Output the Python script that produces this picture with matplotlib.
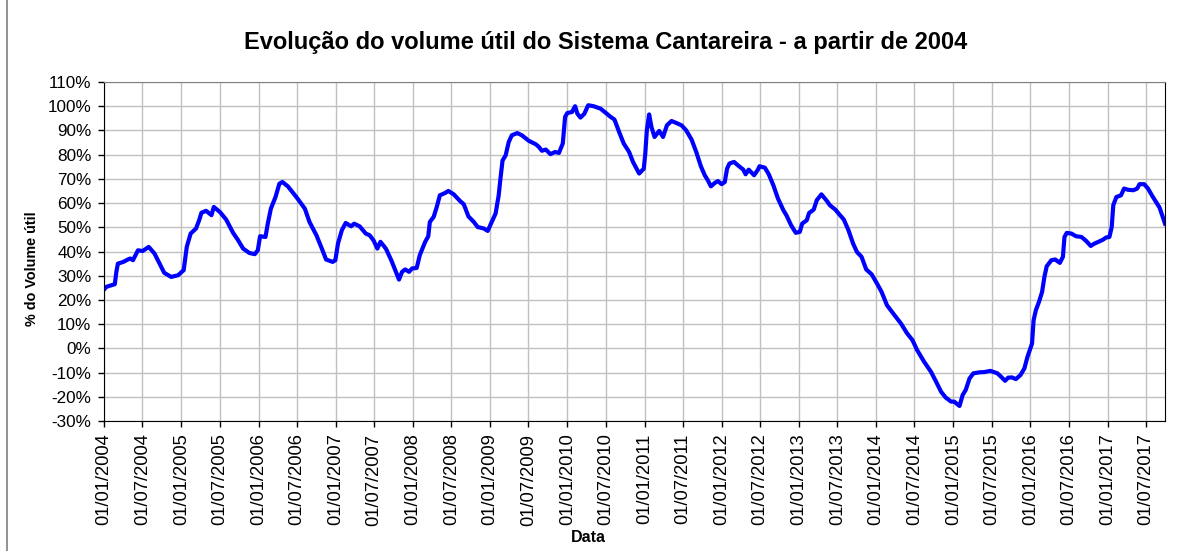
import numpy as np
import pandas as pd
import matplotlib
matplotlib.use("Agg")
import matplotlib.pyplot as plt
import matplotlib.dates as mdates
from matplotlib.ticker import MultipleLocator, FuncFormatter
from matplotlib.lines import Line2D
from datetime import datetime, timedelta

plt.rcParams['font.family'] = ['Liberation Sans', 'DejaVu Sans']

# datas, em anos decimais
anos = [2004.00, 2004.03, 2004.14, 2004.16, 2004.18, 2004.25, 2004.31, 2004.34, 2004.375, 2004.44,
        2004.50, 2004.58, 2004.655, 2004.72, 2004.78, 2004.87, 2004.96, 2005.03, 2005.07, 2005.12,
        2005.19, 2005.23, 2005.26, 2005.32, 2005.39, 2005.42, 2005.50, 2005.58, 2005.67, 2005.73,
        2005.80, 2005.88, 2005.95, 2005.99, 2006.02, 2006.09, 2006.12, 2006.16, 2006.22, 2006.27,
        2006.31, 2006.38, 2006.49, 2006.60, 2006.66, 2006.75, 2006.82, 2006.875, 2006.96, 2006.995,
        2007.03, 2007.08, 2007.13, 2007.20, 2007.24, 2007.31, 2007.39, 2007.44, 2007.49, 2007.54,
        2007.58, 2007.65, 2007.72, 2007.78, 2007.82, 2007.86, 2007.90, 2007.95, 2007.99, 2008.05,
        2008.09, 2008.16, 2008.20, 2008.22, 2008.27, 2008.31, 2008.35, 2008.42, 2008.46, 2008.53,
        2008.61, 2008.66, 2008.72, 2008.79, 2008.84, 2008.92, 2008.97, 2009.00, 2009.07, 2009.11,
        2009.13, 2009.16, 2009.20, 2009.24, 2009.28, 2009.35, 2009.41, 2009.50, 2009.59, 2009.63,
        2009.67, 2009.72, 2009.78, 2009.84, 2009.89, 2009.94, 2009.97, 2010.00, 2010.06, 2010.10,
        2010.13, 2010.17, 2010.22, 2010.27, 2010.34, 2010.43, 2010.50, 2010.56, 2010.61, 2010.67,
        2010.73, 2010.80, 2010.85, 2010.93, 2010.99, 2011.01, 2011.03, 2011.06, 2011.09, 2011.13,
        2011.19, 2011.24, 2011.29, 2011.35, 2011.41, 2011.48, 2011.54, 2011.61, 2011.67, 2011.73,
        2011.78, 2011.82, 2011.86, 2011.91, 2011.95, 2012.00, 2012.04, 2012.07, 2012.10, 2012.16,
        2012.21, 2012.28, 2012.31, 2012.35, 2012.42, 2012.47, 2012.49, 2012.56, 2012.61, 2012.67,
        2012.73, 2012.80, 2012.84, 2012.90, 2012.96, 2013.01, 2013.04, 2013.10, 2013.13, 2013.19,
        2013.23, 2013.29, 2013.36, 2013.40, 2013.47, 2013.52, 2013.58, 2013.64, 2013.70, 2013.75,
        2013.81, 2013.87, 2013.94, 2014.01, 2014.07, 2014.14, 2014.23, 2014.32, 2014.40, 2014.47,
        2014.53, 2014.62, 2014.71, 2014.77, 2014.84, 2014.90, 2014.97, 2015.01, 2015.08, 2015.12,
        2015.16, 2015.21, 2015.26, 2015.34, 2015.40, 2015.48, 2015.57, 2015.63, 2015.67, 2015.71,
        2015.76, 2015.81, 2015.87, 2015.92, 2015.96, 2016.02, 2016.04, 2016.07, 2016.11, 2016.15,
        2016.18, 2016.21, 2016.27, 2016.32, 2016.38, 2016.42, 2016.44, 2016.47, 2016.53, 2016.59,
        2016.66, 2016.72, 2016.78, 2016.83, 2016.88, 2016.94, 2016.98, 2017.02, 2017.05, 2017.07,
        2017.11, 2017.17, 2017.21, 2017.26, 2017.33, 2017.38, 2017.41, 2017.47, 2017.52, 2017.57,
        2017.63, 2017.67, 2017.74]

# % do volume util
volume = [24.3, 25.4, 26.5, 31.6, 35.0, 35.7, 36.7, 37.1, 36.4, 40.5,
          40.2, 41.9, 39.1, 35.0, 31.2, 29.5, 30.2, 32.3, 41.9, 47.4,
          49.5, 52.9, 56.0, 56.8, 55.0, 58.4, 56.3, 53.2, 47.7, 44.9,
          41.2, 39.4, 38.9, 40.5, 46.3, 46.0, 51.5, 57.7, 62.5, 68.0,
          68.7, 66.9, 62.5, 57.7, 52.2, 46.7, 41.2, 36.7, 35.7, 36.4,
          43.3, 48.8, 51.8, 50.4, 51.5, 50.4, 47.4, 46.7, 44.6, 41.2,
          44.0, 41.2, 36.4, 31.6, 28.4, 31.6, 32.6, 31.6, 33.0, 33.2,
          38.5, 44.0, 46.3, 52.2, 54.3, 58.4, 63.2, 64.2, 65.0, 63.6,
          60.9, 59.5, 54.5, 52.2, 50.1, 49.5, 48.5, 50.8, 55.7, 63.2,
          69.3, 77.6, 79.7, 85.2, 88.0, 88.9, 88.0, 85.7, 84.3, 83.2,
          81.6, 82.1, 80.2, 81.1, 80.7, 84.6, 95.6, 97.2, 97.6, 100.0,
          96.9, 95.3, 96.9, 100.4, 100.0, 99.0, 97.2, 95.6, 94.5, 89.4,
          84.6, 81.1, 77.0, 72.2, 74.2, 80.4, 90.0, 96.6, 91.4, 87.3,
          89.8, 87.3, 92.1, 93.9, 93.1, 92.1, 90.0, 86.2, 81.1, 75.2,
          71.5, 69.4, 66.9, 68.3, 69.1, 67.8, 68.7, 74.2, 76.3, 77.0,
          75.6, 73.8, 71.9, 73.8, 71.5, 73.8, 75.2, 74.6, 71.9, 67.3,
          61.8, 57.0, 54.9, 50.8, 47.7, 48.1, 51.5, 52.9, 55.9, 57.3,
          61.2, 63.6, 60.9, 59.1, 57.3, 55.4, 53.2, 48.8, 43.3, 39.8,
          37.8, 32.6, 30.6, 26.8, 23.3, 17.8, 14.0, 10.3, 6.2, 3.4,
          -0.7, -5.5, -9.7, -13.4, -17.9, -20.3, -22.0, -22.0, -23.8, -19.3,
          -17.2, -12.4, -10.3, -9.9, -9.8, -9.3, -10.3, -12.1, -13.4, -12.1,
          -12.0, -12.7, -11.0, -8.3, -3.5, 2.0, 11.6, 15.8, 19.2, 23.3,
          29.5, 33.9, 36.4, 36.7, 35.3, 37.8, 46.0, 47.7, 47.4, 46.3,
          46.0, 44.4, 42.3, 43.3, 44.0, 44.9, 45.8, 46.0, 50.1, 59.1,
          62.5, 63.2, 66.0, 65.5, 65.3, 66.0, 67.8, 67.8, 66.0, 63.2,
          60.1, 58.1, 51.5]


def ano_para_data(a):
    y = int(a)
    return datetime(y, 1, 1) + timedelta(days=(a - y) * 365.25)


datas = [ano_para_data(a) for a in anos]

fig = plt.figure(figsize=(11.81, 5.51), dpi=100)
ax = fig.add_axes([104/1181, 1 - 421/551, (1165-104)/1181, (421-82)/551])

ax.plot(datas, volume, color='#0000ff', lw=3, solid_joinstyle='round')

ax.set_xlim(datetime(2004, 1, 1), ano_para_data(2017.74))
ax.set_ylim(-30, 110)
ax.yaxis.set_major_locator(MultipleLocator(10))
ax.yaxis.set_major_formatter(FuncFormatter(lambda v, p: '%d%%' % round(v)))
ax.xaxis.set_major_locator(mdates.MonthLocator(bymonth=[1, 7], bymonthday=1))
ax.xaxis.set_major_formatter(mdates.DateFormatter('%d/%m/%Y'))

ax.grid(True, color='#c0c0c0', lw=1)
ax.set_axisbelow(True)
ax.tick_params(axis='both', direction='out', length=4, width=1, color='black', pad=5)
ax.tick_params(axis='y', labelsize=12.3)
ax.tick_params(axis='x', labelsize=13.2)
plt.setp(ax.get_xticklabels(), rotation=90)

for s in ['left', 'bottom', 'right']:
    ax.spines[s].set_color('black')
ax.spines['top'].set_color('#808080')

fig.text(606/1181, 1 - 43/551, 'Evolução do volume útil do Sistema Cantareira - a partir de 2004',
         ha='center', va='center', fontsize=17, fontweight='bold')
fig.text(32/1181, 1 - 269/551, '% do Volume útil', rotation=90, ha='center', va='center',
         fontsize=10.4, fontweight='bold')
fig.text(588/1181, 1 - 538/551, 'Data', ha='center', va='center', fontsize=11.5, fontweight='bold')

# borda da area do grafico
fig.add_artist(Line2D([6.5/1181, 6.5/1181], [0, 1], transform=fig.transFigure, color='#808080', lw=1.2))

fig.savefig('out.png', dpi=100)
